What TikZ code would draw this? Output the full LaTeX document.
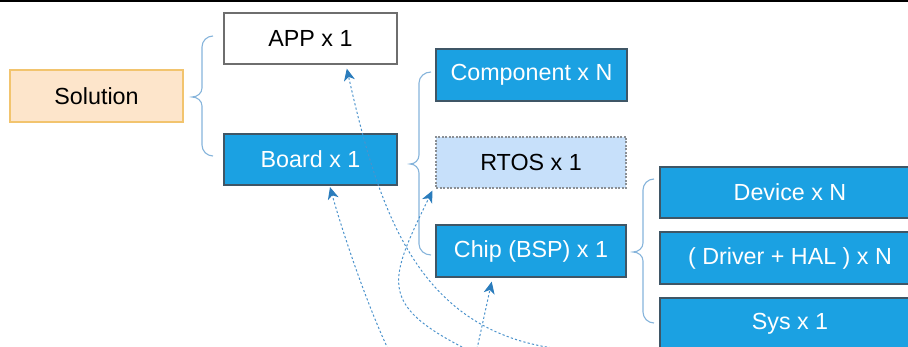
\documentclass[tikz,border=0pt]{standalone}
\usepackage{fontspec}
\setmainfont{Liberation Sans}
\usetikzlibrary{arrows.meta,calc}
\definecolor{boxblue}{HTML}{1BA1E2}
\definecolor{boxedge}{HTML}{3F5666}
\definecolor{peach}{HTML}{FDE5CB}
\definecolor{peachedge}{HTML}{F2C46E}
\definecolor{rtosfill}{HTML}{C7E0FA}
\definecolor{rtosedge}{HTML}{8A8F94}
\definecolor{appedge}{HTML}{6E6E6E}
\definecolor{bracecol}{HTML}{86B4DB}
\definecolor{linkcol}{HTML}{4C93CC}
\definecolor{tipcol}{HTML}{2A7CBC}

\begin{document}
\begin{tikzpicture}[x=1pt,y=1pt,
  box/.style={rectangle, inner sep=0pt, line width=1.2pt,
    font=\fontsize{23.3}{27}\selectfont},
  bluebox/.style={box, fill=boxblue, draw=boxedge, text=white},
  peachbox/.style={box, fill=peach, draw=peachedge, text=black},
  whitebox/.style={box, fill=white, draw=appedge, text=black},
  dashbox/.style={box, fill=rtosfill, draw=rtosedge, dash pattern=on 2pt off 1.5pt, text=black},
  brace/.style={draw=bracecol, line width=1.1pt},
  link/.style={draw=linkcol, line width=1pt, dash pattern=on 2.2pt off 2.2pt,
    -{Stealth[length=12pt,width=11pt,inset=3.5pt,color=tipcol]}}]

\useasboundingbox (0,0) rectangle (908,347);
\clip (0,0) rectangle (908,347);

% top rule
\fill[black] (0,344.5) rectangle (908,347);

% first level
\node[peachbox, minimum width=173pt, minimum height=52pt] (sol) at (96.5,251) {Solution};
\node[whitebox, minimum width=173pt, minimum height=51pt] (app) at (310.5,308.5) {APP x 1};
\node[bluebox, minimum width=173pt, minimum height=51pt] (board) at (310.5,187.5) {Board x 1};

% board parts
\node[bluebox, minimum width=191pt, minimum height=52pt] (comp) at (531.5,272) {Component x N};
\node[dashbox, minimum width=190pt, minimum height=51pt] (rtos) at (531,184.5) {RTOS x 1};
\node[bluebox, minimum width=190pt, minimum height=52pt] (chip) at (531,96) {Chip (BSP) x 1};

% chip parts
\node[bluebox, minimum width=260pt, minimum height=51pt] (dev) at (790,154.5) {Device x N};
\node[bluebox, minimum width=260pt, minimum height=52pt] (drv) at (790,89) {( Driver + HAL ) x N};
\node[bluebox, minimum width=260pt, minimum height=52pt] (sys) at (790,23) {Sys x 1};

% braces
\draw[brace] (213,311) to[out=180,in=90] (202,300) -- (202,259)
  to[out=-90,in=0] (192,250) to[out=0,in=90] (202,241) -- (202,202)
  to[out=-90,in=180] (213,191);
\draw[brace] (431,275) to[out=180,in=90] (419,264) -- (419,192)
  to[out=-90,in=0] (410,183) to[out=0,in=90] (419,174) -- (419,103)
  to[out=-90,in=180] (431,92);
\draw[brace] (654,168) to[out=180,in=90] (643,157) -- (643,104)
  to[out=-90,in=0] (633,95) to[out=0,in=90] (643,86) -- (643,35)
  to[out=-90,in=180] (654,24);

% dependency links coming in from below
\coordinate (s1) at (560,-2);
\coordinate (s2) at (388,-2);
\coordinate (s3) at (466,-2);
\coordinate (s4) at (477,-2);

\draw[link] (s1) .. controls (420,15) and (380,130) .. ($(app.south)+(36.3,-4)$);
\draw[link] (s2) .. controls (367,43) and (344,110) .. ($(board.south)+(19.5,-1.5)$);
\draw[link] (s3) .. controls (377,43) and (389,67) .. ($(rtos.south west)+(-3,-2)$);
\draw[link] (s4) -- ($(chip.south)+(-39.3,-4)$);

\end{tikzpicture}
\end{document}
